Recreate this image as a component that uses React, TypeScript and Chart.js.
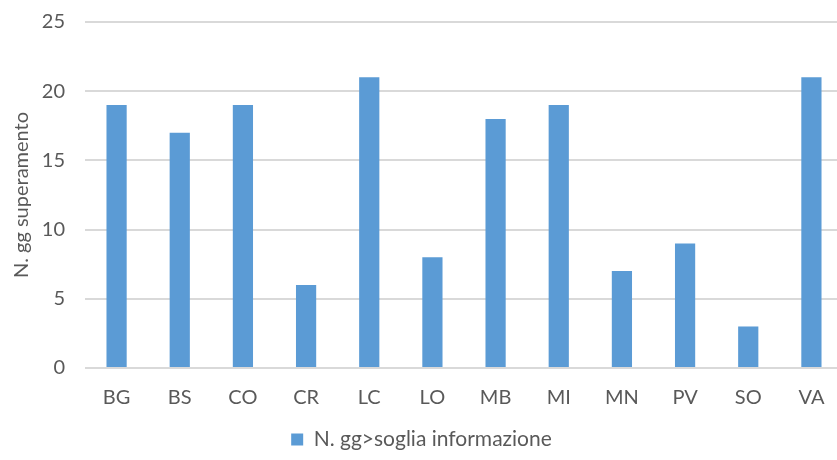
import React, { useEffect, useRef } from "react";
import { Chart, registerables } from "chart.js";

Chart.register(...registerables);

const provinces = ["BG", "BS", "CO", "CR", "LC", "LO", "MB", "MI", "MN", "PV", "SO", "VA"];
const exceedanceDays = [19, 17, 19, 6, 21, 8, 18, 19, 7, 9, 3, 21];
const seriesLabel = "N. gg>soglia informazione";
const yAxisTitle = "N. gg superamento";

const TEXT = "#595959";
const BAR = "#5B9BD5";
const GRID = "#D9D9D9";
const FONT = "Lato, 'Open Sans', sans-serif";

export default function App() {
  const canvasRef = useRef<HTMLCanvasElement | null>(null);

  useEffect(() => {
    document.body.style.margin = "0";
    document.body.style.overflow = "hidden";
    const canvas = canvasRef.current;
    if (!canvas) return;
    const chart = new Chart(canvas, {
      type: "bar",
      data: {
        labels: provinces,
        datasets: [
          {
            label: seriesLabel,
            data: exceedanceDays,
            backgroundColor: BAR,
            borderWidth: 0,
            barPercentage: 0.32,
            categoryPercentage: 1,
          },
        ],
      },
      options: {
        responsive: false,
        animation: false,
        devicePixelRatio: 1,
        layout: { padding: { top: 22, right: 2, bottom: 0, left: 0 } },
        plugins: {
          tooltip: { enabled: false },
          legend: {
            position: "bottom",
            labels: {
              color: TEXT,
              font: { family: FONT, size: 21 },
              boxWidth: 12,
              boxHeight: 12,
              padding: 12,
            },
          },
        },
        scales: {
          x: {
            grid: { display: false, drawTicks: false },
            border: { display: false },
            ticks: { color: TEXT, font: { family: FONT, size: 20 }, padding: 18 },
            afterFit: (scale: any) => {
              scale.height = 49;
            },
          },
          y: {
            min: 0,
            max: 25,
            ticks: { stepSize: 5, color: TEXT, font: { family: FONT, size: 20 }, padding: 20 },
            grid: { color: GRID, lineWidth: 2, drawTicks: false },
            border: { display: false },
            title: {
              display: true,
              text: yAxisTitle,
              color: TEXT,
              font: { family: FONT, size: 20 },
              padding: { top: 10, bottom: 0 },
            },
            afterFit: (scale: any) => {
              scale.width = 85;
              scale.paddingTop = 0;
              scale.paddingBottom = 0;
            },
          },
        },
      },
    });
    return () => chart.destroy();
  }, []);

  return (
    <div style={{ position: "fixed", left: 0, top: 0, width: 837, height: 460, overflow: "hidden", background: "#fff" }}>
      <canvas ref={canvasRef} width={845} height={460} style={{ width: 845, height: 460 }} />
    </div>
  );
}
